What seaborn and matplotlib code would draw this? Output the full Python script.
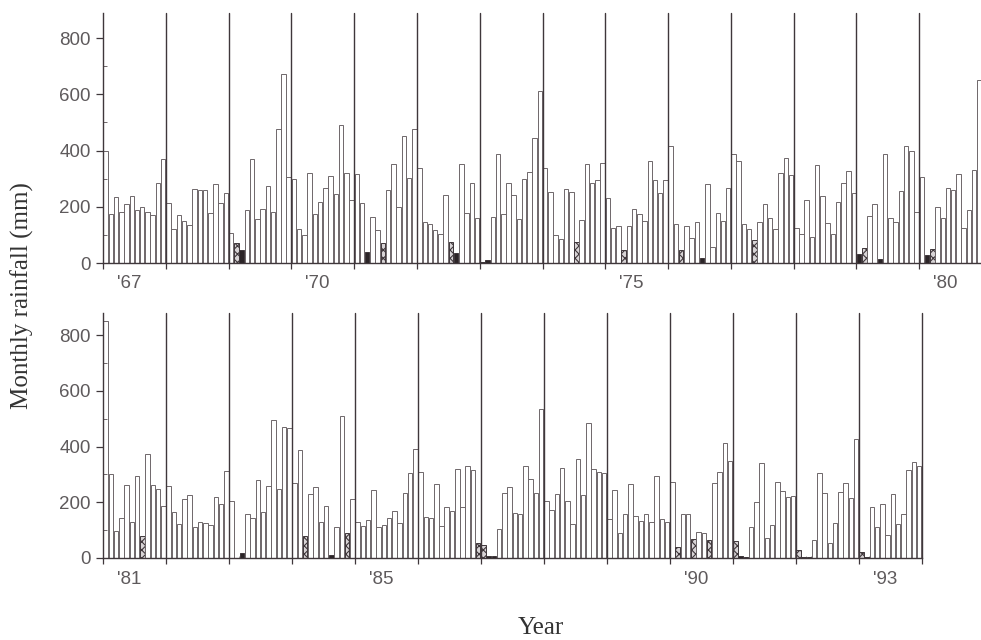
import matplotlib
matplotlib.use("Agg")
import matplotlib.pyplot as plt
import matplotlib.transforms as mtransforms
import numpy as np
import pandas as pd
import seaborn as sns

# Monthly rainfall totals (mm), January..December
r1967 = [400, 175, 235, 180, 210, 240, 190, 200, 180, 170, 285, 370]
r1968 = [215, 120, 170, 150, 135, 262, 260, 258, 178, 280, 212, 248]
r1969 = [105, 70, 45, 188, 369, 155, 192, 274, 180, 476, 671, 305]
r1970 = [300, 120, 100, 321, 173, 218, 268, 309, 244, 491, 319, 224]
r1971 = [316, 214, 40, 162, 117, 70, 260, 352, 200, 451, 303, 476]
r1972 = [337, 145, 137, 117, 103, 242, 76, 37, 351, 179, 283, 159]
r1973 = [5, 12, 165, 386, 174, 283, 242, 155, 297, 322, 443, 611]
r1974 = [337, 254, 100, 84, 262, 254, 73, 153, 352, 283, 295, 357]
r1975 = [230, 123, 133, 46, 132, 192, 173, 149, 363, 295, 250, 295]
r1976 = [416, 139, 46, 133, 88, 147, 17, 280, 58, 179, 150, 265]
r1977 = [386, 363, 137, 120, 82, 145, 210, 161, 120, 319, 372, 313]
r1978 = [123, 103, 224, 91, 348, 238, 141, 103, 216, 286, 327, 250]
r1979 = [31, 52, 167, 209, 13, 386, 159, 145, 256, 416, 398, 182]
r1980 = [305, 30, 50, 200, 159, 268, 260, 315, 123, 188, 331, 651]
r1981 = [850, 301, 98, 142, 262, 130, 294, 80, 372, 262, 246, 188]
r1982 = [260, 164, 122, 212, 226, 110, 128, 124, 118, 220, 193, 312]
r1983 = [205, 0, 17, 158, 145, 280, 166, 260, 495, 246, 471, 465]
r1984 = [268, 388, 79, 230, 254, 130, 188, 11, 112, 510, 88, 212]
r1985 = [130, 115, 136, 244, 110, 118, 142, 170, 127, 234, 304, 390]
r1986 = [310, 148, 142, 265, 116, 184, 170, 319, 182, 331, 316, 55]
r1987 = [45, 8, 6, 103, 234, 254, 163, 158, 331, 283, 232, 533]
r1988 = [205, 172, 228, 322, 205, 121, 354, 226, 486, 319, 310, 306]
r1989 = [139, 244, 89, 157, 265, 152, 134, 157, 130, 295, 140, 128]
r1990 = [274, 41, 158, 158, 67, 92, 89, 65, 268, 310, 411, 349]
r1991 = [62, 8, 5, 112, 202, 342, 70, 118, 274, 240, 220, 222]
r1992 = [29, 4, 3, 65, 306, 234, 55, 127, 238, 270, 214, 426]
r1993 = [23, 4, 182, 112, 193, 83, 228, 122, 158, 316, 346, 331]

top_years = [1967, 1968, 1969, 1970, 1971, 1972, 1973,
             1974, 1975, 1976, 1977, 1978, 1979, 1980]
top_rain = [r1967, r1968, r1969, r1970, r1971, r1972, r1973,
            r1974, r1975, r1976, r1977, r1978, r1979, r1980]
bottom_years = [1981, 1982, 1983, 1984, 1985, 1986, 1987,
                1988, 1989, 1990, 1991, 1992, 1993]
bottom_rain = [r1981, r1982, r1983, r1984, r1985, r1986, r1987,
               r1988, r1989, r1990, r1991, r1992, r1993]

# Dry months: stippled and solid bars (year, month)
stippled = [(1969, 2), (1971, 6), (1972, 7), (1974, 7), (1975, 4), (1976, 3),
            (1977, 5), (1979, 2), (1980, 3), (1981, 8), (1984, 3), (1984, 11),
            (1986, 12), (1987, 1), (1990, 2), (1990, 5), (1990, 8), (1991, 1),
            (1992, 1), (1993, 1)]
solid = [(1969, 3), (1971, 3), (1972, 8), (1973, 1), (1973, 2), (1976, 7),
         (1979, 1), (1979, 5), (1980, 2), (1983, 3), (1984, 8), (1987, 2),
         (1987, 3), (1991, 2), (1991, 3), (1992, 2), (1992, 3), (1993, 2)]

top_labels = ["'67", "'70", "'75", "'80"]
top_label_years = [1967, 1970, 1975, 1980]
bottom_labels = ["'81", "'85", "'90", "'93"]
bottom_label_years = [1981, 1985, 1990, 1993]

INK = "#3f373b"
BAR = "#6e676a"
GREY = "#5e5a5c"

sns.set_theme(style="ticks")
plt.rcParams["font.family"] = ["Liberation Sans", "DejaVu Sans"]
plt.rcParams["hatch.color"] = "#3a3336"
plt.rcParams["hatch.linewidth"] = 0.8

W, H = 981, 640
fig = plt.figure(figsize=(W / 100, H / 100), dpi=100)
fig.patch.set_facecolor("white")

ax_top = fig.add_axes([103 / W, 1 - 263 / H, 879 / W, 250 / H])
ax_bot = fig.add_axes([103 / W, 1 - 558 / H, 818.7 / W, 245 / H])


def draw_panel(ax, years, rain, label_text, label_years, ymax):
    rows = []
    for k, (yr, vals) in enumerate(zip(years, rain)):
        for m, v in enumerate(vals):
            kind = "wet"
            if (yr, m + 1) in stippled:
                kind = "stipple"
            elif (yr, m + 1) in solid:
                kind = "solid"
            rows.append({"pos": 12 * k + m + 0.5, "rain": v, "kind": kind})
    df = pd.DataFrame(rows)

    sns.barplot(data=df, x="pos", y="rain", native_scale=True, width=0.86,
                color="white", errorbar=None, ax=ax)

    kinds = dict(zip(np.round(df["pos"] - 0.5).astype(int), df["kind"]))
    for p in ax.patches:
        idx = int(round(p.get_x() + p.get_width() / 2 - 0.5))
        kind = kinds.get(idx, "wet")
        p.set_linewidth(0.7)
        if kind == "stipple":
            p.set_edgecolor(INK)
            p.set_facecolor("#d8d4d6")
            p.set_hatch("xxxx")
        elif kind == "solid":
            p.set_edgecolor(INK)
            p.set_facecolor("#2b2427")
        else:
            p.set_edgecolor(BAR)
            p.set_facecolor("none")

    n = len(years)
    ax.set_xlim(0, 12 * n)
    ax.set_ylim(0, ymax)
    for k in range(1, n + 1):
        ax.axvline(12 * k, color=INK, lw=1.0, zorder=3, clip_on=False)

    for s in ("top", "right"):
        ax.spines[s].set_visible(False)
    for s in ("left", "bottom"):
        ax.spines[s].set_color(INK)
        ax.spines[s].set_linewidth(1.0)

    ax.set_yticks([0, 200, 400, 600, 800])
    ax.set_yticks([100, 300, 500, 700], minor=True)
    ax.tick_params(axis="y", which="major", direction="out", length=5,
                   width=0.9, color=INK, labelsize=13.5, labelcolor=GREY, pad=4)
    ax.tick_params(axis="y", which="minor", direction="in", length=3,
                   width=0.7, color=BAR)

    ax.set_xticks(np.arange(0, 12 * n + 1, 12))
    ax.set_xticks(np.arange(0, 12 * n, 1), minor=True)
    ax.set_xticklabels([])
    ax.tick_params(axis="x", which="major", direction="out", length=4,
                   width=0.9, color=INK)
    ax.tick_params(axis="x", which="minor", direction="in", length=1.5,
                   width=0.5, color=BAR)
    ax.set_xlabel("")
    ax.set_ylabel("")

    trans = mtransforms.blended_transform_factory(ax.transData, ax.transAxes)
    for txt, yr in zip(label_text, label_years):
        x = 12 * (yr - years[0]) + 5.0
        ax.annotate(txt, xy=(x, 0), xycoords=trans, xytext=(0, -9),
                    textcoords="offset points", ha="center", va="top",
                    fontsize=13.5, color=GREY)


draw_panel(ax_top, top_years, top_rain, top_labels, top_label_years, 889)
draw_panel(ax_bot, bottom_years, bottom_rain, bottom_labels,
           bottom_label_years, 879)

fig.text(22 / W, 1 - 296 / H, "Monthly rainfall (mm)", rotation=90,
         ha="center", va="center", fontsize=18,
         family=["Liberation Serif", "DejaVu Serif"], color="#333333")
fig.text(541 / W, 1 - 628 / H, "Year", ha="center", va="center",
         fontsize=18, family=["Liberation Serif", "DejaVu Serif"],
         color="#333333")

fig.savefig("out.png", dpi=100, facecolor="white")
